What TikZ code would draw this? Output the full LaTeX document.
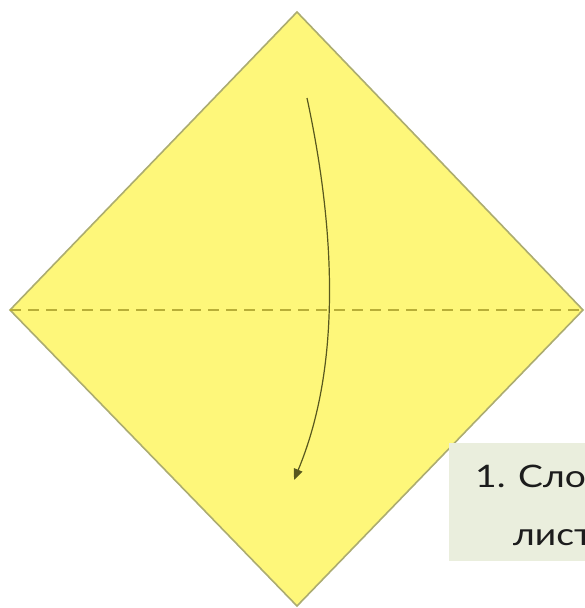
\documentclass[tikz,border=0pt]{standalone}
\usepackage{fontspec}
\setmainfont{Lato}
\newfontfamily\notefont[FakeStretch=1.2]{Lato}
\usetikzlibrary{arrows.meta}
\definecolor{paper}{RGB}{254,247,122}
\definecolor{paperedge}{RGB}{172,172,112}
\definecolor{foldline}{RGB}{184,174,56}
\definecolor{arrowcol}{RGB}{88,88,30}
\definecolor{notebg}{RGB}{234,238,221}
\definecolor{notetext}{RGB}{28,28,28}
\tikzset{
  sheet/.style={fill=paper, draw=paperedge, line width=1.6pt, line join=miter},
  valley/.style={draw=foldline, line width=2.2pt, dash pattern=on 11pt off 7pt},
  foldarrow/.style={draw=arrowcol, line width=1.2pt, -{Triangle[length=11pt,width=9pt]}},
  notebox/.style={fill=notebg, inner sep=0pt, minimum width=140pt, minimum height=118pt, anchor=north west},
  notetxt/.style={font=\notefont\fontsize{31}{31}\selectfont, text=notetext, inner sep=0pt, anchor=base west}
}
\begin{document}
\begin{tikzpicture}[x=1pt,y=-1pt]
  \useasboundingbox (0,0) rectangle (585,608);
  \clip (0,0) rectangle (585,608);
  \fill[white] (0,0) rectangle (585,608);
  \coordinate (top) at (297,12);
  \coordinate (right) at (583,310);
  \coordinate (bottom) at (297,606);
  \coordinate (left) at (10,310);
  \path[sheet] (top) -- (right) -- (bottom) -- (left) -- cycle;
  \draw[valley] (left) -- (right);
  \coordinate (astart) at (307,98);
  \coordinate (aend) at (294,480);
  \draw[foldarrow] (astart) .. controls (335,228) and (342,365) .. (aend);
  \node[notebox] (note) at (449,443) {};
  \node[notetxt] (line1) at (475,487) {1. Сло};
  \node[notetxt] (line2) at (513,545) {лист};
\end{tikzpicture}
\end{document}
